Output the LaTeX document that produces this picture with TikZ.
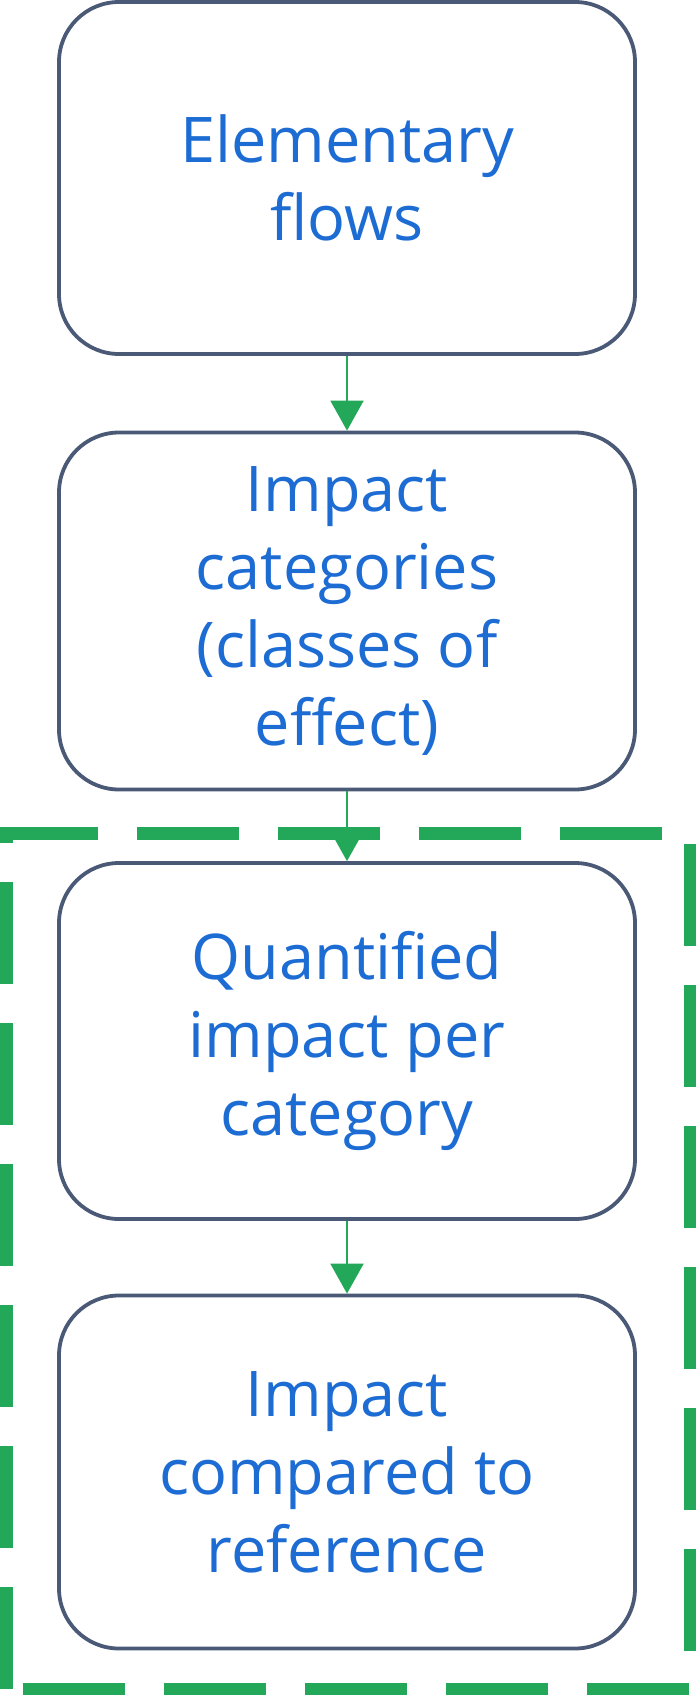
\documentclass[tikz,border=0pt]{standalone}
\usepackage{fontspec}
\setmainfont{Open Sans}
\usetikzlibrary{arrows.meta}
\definecolor{boxline}{RGB}{74,89,118}
\definecolor{txtblue}{RGB}{28,108,212}
\definecolor{arrgreen}{RGB}{35,168,90}
\tikzset{
  stepbox/.style={draw=boxline, line width=3.8pt, rounded corners=60pt, fill=white,
    minimum width=576pt, text=txtblue, align=center, inner sep=0pt,
    font=\fontsize{63}{78}\selectfont},
  flowarrow/.style={draw=arrgreen, line width=2pt, -{Triangle[length=30pt,width=33pt]}},
  groupbox/.style={draw=arrgreen, line width=13pt, dash pattern=on 102pt off 39pt}
}
\begin{document}
\begin{tikzpicture}[x=1pt,y=-1pt]
\useasboundingbox (0,0) rectangle (696,1695);
\coordinate (gtl) at (-4,833);
\coordinate (gtr) at (690,833);
\coordinate (gbr) at (690,1689);
\coordinate (gbl) at (6,1689);
\coordinate (gtl2) at (6,827);
\draw[groupbox] (gtl) -- (gtr) -- (gbr) -- (gbl);
\draw[groupbox] (gbl) -- (gtl2);
\node[stepbox, minimum height=352pt] (b1) at (347,178) {Elementary\\flows};
\node[stepbox, minimum height=357pt] (b2) at (347,611) {Impact\\categories\\(classes of\\effect)};
\node[stepbox, minimum height=356pt] (b3) at (347,1041) {Quantified\\impact per\\category};
\node[stepbox, minimum height=353pt] (b4) at (347,1472) {Impact\\compared to\\reference};
\draw[flowarrow] (b1.south) -- (b2.north);
\draw[flowarrow] (b2.south) -- (b3.north);
\draw[flowarrow] (b3.south) -- (b4.north);
\end{tikzpicture}
\end{document}
